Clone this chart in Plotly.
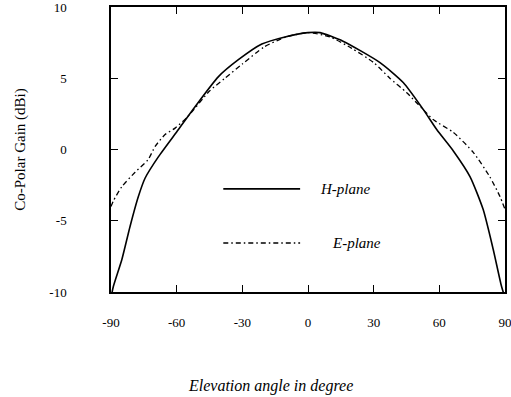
import plotly.graph_objects as go

# H-plane (solid)
h_angle = [-90, -88.9, -85, -81.3, -77.5, -74.4, -68.3, -59.2, -51.6, -41, -31.8, -21.1, -10.5, 0, 5.5, 16, 32.9, 43.5, 52.7, 58.8, 66.4, 74, 80, 84.6, 88.4, 90]
h_gain = [-10.4, -9.6, -7.7, -5.4, -3.3, -2.0, -0.5, 1.4, 3.0, 5.1, 6.3, 7.4, 7.9, 8.2, 8.2, 7.6, 6.1, 4.7, 2.8, 1.4, -0.1, -1.9, -4.2, -7.0, -9.6, -10.4]

# E-plane (dash-dot)
e_angle = [-90, -88.9, -85, -79, -73, -69.9, -65.3, -60.7, -55, -45, -38, -30, -20, -10, 0, 10, 20, 30, 37.4, 45, 52, 57.2, 66.4, 75.5, 83, 87.7, 90]
e_gain = [-4.0, -3.6, -2.6, -1.6, -0.7, 0.2, 1.05, 1.5, 2.3, 4.1, 5.0, 6.0, 7.2, 7.9, 8.2, 7.9, 7.1, 6.1, 5.0, 4.0, 2.9, 2.1, 1.2, -0.2, -1.9, -3.3, -4.2]

x_ticks = [-90, -60, -30, 0, 30, 60, 90]
x_tick_labels = ["-90", "-60", "-30", "0", "30", "60", "90"]
y_ticks = [-10, -5, 0, 5, 10]
y_tick_labels = ["-10", "-5", "0", "5", "10"]

legend_names = ["H-plane", "E-plane"]

FONT = "Liberation Serif, Times New Roman, serif"

fig = go.Figure()
fig.add_trace(go.Scatter(x=h_angle, y=h_gain, mode="lines", name=legend_names[0],
                         line=dict(color="black", width=1.6, shape="spline", smoothing=0.6)))
fig.add_trace(go.Scatter(x=e_angle, y=e_gain, mode="lines", name=legend_names[1],
                         line=dict(color="black", width=1.3, dash="5px,3px,1.5px,3px",
                                   shape="spline", smoothing=0.6)))

# legend drawn manually
for i, (yy, dash, w) in enumerate([(0.362, "solid", 1.6), (0.172, "5px,3px,1.5px,3px", 1.3)]):
    fig.add_shape(type="line", xref="paper", yref="paper", x0=0.285, x1=0.48, y0=yy, y1=yy,
                  line=dict(color="black", width=w, dash=dash))
fig.add_annotation(xref="paper", yref="paper", x=0.525, y=0.362, text="<i>H-plane</i>",
                   showarrow=False, xanchor="left", yanchor="middle",
                   font=dict(family=FONT, size=15, color="black"))
fig.add_annotation(xref="paper", yref="paper", x=0.555, y=0.172, text="<i>E-plane</i>",
                   showarrow=False, xanchor="left", yanchor="middle",
                   font=dict(family=FONT, size=15, color="black"))

# x title
fig.add_annotation(xref="paper", yref="paper", x=(270 - 111) / 394, y=-0.33,
                   text="<i>Elevation angle in degree</i>", showarrow=False,
                   xanchor="center", yanchor="middle",
                   font=dict(family=FONT, size=16, color="black"))

fig.update_layout(
    width=511, height=397,
    margin=dict(l=111, r=6, t=7, b=105, autoexpand=False),
    paper_bgcolor="white", plot_bgcolor="white",
    showlegend=False,
    font=dict(family=FONT, size=13, color="black"),
)
fig.update_xaxes(range=[-90, 90], tickvals=x_ticks, ticktext=x_tick_labels, automargin=False,
                 ticklabeloverflow="allow",
                 showgrid=False, zeroline=False, showline=True, linecolor="black", linewidth=1.5,
                 mirror="ticks", ticks="inside", ticklen=7, tickcolor="black",
                 ticklabelstandoff=18, tickfont=dict(family=FONT, size=13))
fig.update_yaxes(range=[-10, 10], tickvals=y_ticks, ticktext=y_tick_labels, automargin=False,
                 ticklabeloverflow="allow",
                 showgrid=False, zeroline=False, showline=True, linecolor="black", linewidth=1.5,
                 mirror="ticks", ticks="inside", ticklen=7, tickcolor="black",
                 ticklabelstandoff=40, tickfont=dict(family=FONT, size=13),
                 title=dict(text="Co-Polar Gain (dBi)", font=dict(family=FONT, size=15), standoff=20))

fig.write_html("out.html")
